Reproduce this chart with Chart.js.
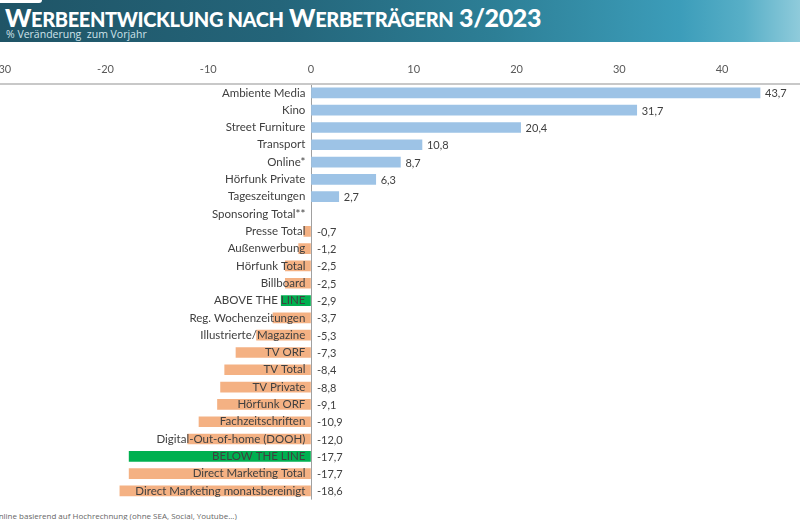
<!DOCTYPE html>
<html>
<head>
<meta charset="utf-8">
<script src="https://cdn.jsdelivr.net/npm/chart.js@4.4.1/dist/chart.umd.min.js"></script>
<style>
  html, body { margin:0; padding:0; background:#fff; width:800px; height:520px; overflow:hidden; position:relative; font-family: Lato, "Open Sans", sans-serif; }
  #banner { position:absolute; left:0; top:0; width:800px; height:42px;
    background: linear-gradient(90deg, #1f5466 0%, #24657a 35%, #2d7f96 62%, #3c9dba 85%, #58afc7 93%, #8fcbdb 100%); }
  #tab { position:absolute; left:0; top:0; width:42px; height:3px; background:#fff; border-bottom-right-radius:3px; }
  #title { position:absolute; left:5px; top:3px; color:#fff; font-family: Lato, sans-serif; font-weight:900; font-size:25px; letter-spacing:-0.37px; white-space:nowrap; line-height:28px; }
  #title .sc { text-transform: uppercase; font-size:0.8em; }
  #subtitle { position:absolute; left:6px; top:27px; color:#cfe3ea; font-family: "Open Sans", sans-serif; font-size:10.5px; white-space:nowrap; }
  #wrap { position:absolute; left:-40px; top:52.6px; width:840px; height:453.5px; }
  #note { position:absolute; left:-12px; top:510px; font-family:"Open Sans", sans-serif; font-size:8px; color:#666; white-space:nowrap; }
</style>
</head>
<body>
<div id="banner"></div>
<div id="tab"></div>
<div id="title">W<span class="sc">erbeentwicklung nach</span> W<span class="sc">erbeträgern</span> 3/2023</div>
<div id="subtitle">% Veränderung&nbsp; zum Vorjahr</div>
<div id="wrap"><canvas id="c"></canvas></div>
<div id="note">*Online basierend auf Hochrechnung (ohne SEA, Social, Youtube...)</div>
<script>
const categories = [
  "Ambiente Media", "Kino", "Street Furniture", "Transport", "Online*",
  "Hörfunk Private", "Tageszeitungen", "Sponsoring Total**", "Presse Total",
  "Außenwerbung", "Hörfunk Total", "Billboard", "ABOVE THE LINE",
  "Reg. Wochenzeitungen", "Illustrierte/Magazine", "TV ORF", "TV Total",
  "TV Private", "Hörfunk ORF", "Fachzeitschriften", "Digital-Out-of-home (DOOH)",
  "BELOW THE LINE", "Direct Marketing Total", "Direct Marketing monatsbereinigt"
];
const changes = [
  43.7, 31.7, 20.4, 10.8, 8.7,
  6.3, 2.7, null, -0.7,
  -1.2, -2.5, -2.5, -2.9,
  -3.7, -5.3, -7.3, -8.4,
  -8.8, -9.1, -10.9, -12.0,
  -17.7, -17.7, -18.6
];
const highlightCategories = ["ABOVE THE LINE", "BELOW THE LINE"];
const xTickValues = [-30, -20, -10, 0, 10, 20, 30, 40];

const colPos = "#9dc3e6", colNeg = "#f4b183", colHi = "#00b050";
const barColors = categories.map((c, i) =>
  highlightCategories.includes(c) ? colHi : (changes[i] >= 0 ? colPos : colNeg));

const fmt = v => v.toFixed(1).replace(".", ",");

const valueLabels = {
  id: "valueLabels",
  afterDatasetsDraw(chart) {
    const ctx = chart.ctx;
    const meta = chart.getDatasetMeta(0);
    const zero = chart.scales.x.getPixelForValue(0);
    ctx.save();
    ctx.font = "11px Lato, 'Open Sans', sans-serif";
    ctx.fillStyle = "#404040";
    ctx.textAlign = "left";
    ctx.textBaseline = "middle";
    meta.data.forEach((bar, i) => {
      const v = changes[i];
      if (v === null || v === undefined) return;
      const x = v >= 0 ? bar.x + 5 : zero + 6;
      ctx.fillText(fmt(v), x, bar.y + 1);
    });
    ctx.restore();
  }
};

new Chart(document.getElementById("c"), {
  type: "bar",
  data: {
    labels: categories,
    datasets: [{
      data: changes,
      backgroundColor: barColors,
      borderWidth: 0,
      barThickness: 10
    }]
  },
  options: {
    indexAxis: "y",
    responsive: true,
    maintainAspectRatio: false,
    animation: false,
    layout: { padding: { top: 2, left: 0, right: 0, bottom: 0 } },
    plugins: { legend: { display: false }, tooltip: { enabled: false } },
    scales: {
      x: {
        position: "top",
        min: -34.16,
        max: 47.59,
        afterBuildTicks(scale) { scale.ticks = xTickValues.map(v => ({ value: v })); },
        ticks: { includeBounds: false, padding: 8, color: "#595959",
                 font: { family: "Lato, 'Open Sans', sans-serif", size: 11 } },
        grid: { display: true, drawTicks: false, lineWidth: 1,
                color: c => (c.tick && c.tick.value === 0) ? "#a0a0a0" : "rgba(0,0,0,0)" },
        border: { display: true, color: "#c8c8c8", width: 2 }
      },
      y: {
        position: { x: -0.55 },
        ticks: { z: 1, padding: 0, color: "#404040", autoSkip: false,
                 font: { family: "Lato, 'Open Sans', sans-serif", size: 11.5 } },
        grid: { display: false, drawTicks: false },
        border: { display: false }
      }
    }
  },
  plugins: [valueLabels]
});
</script>
</body>
</html>
